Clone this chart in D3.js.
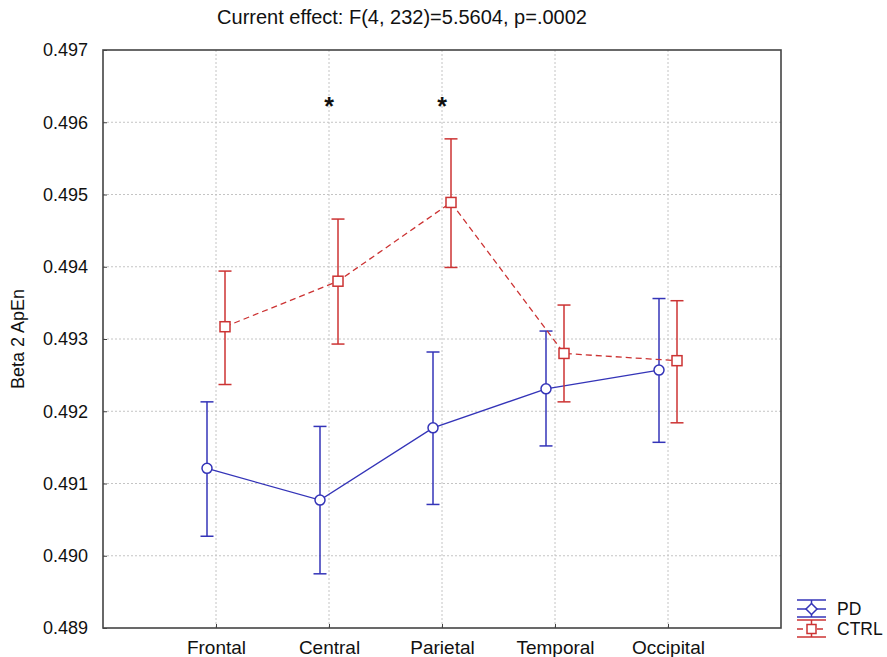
<!DOCTYPE html>
<html>
<head>
<meta charset="utf-8">
<script src="https://cdn.jsdelivr.net/npm/d3@7"></script>
<style>
  body { margin: 0; background: #fff; }
  svg { font-family: "Liberation Sans", Arial, sans-serif; }
  .grid line { stroke: #c4c4c4; stroke-dasharray: 2,2; }
  .axis path, .axis line { stroke: #444; }
  .axis text { fill: #111; }
  .y.axis text { font-size: 18px; }
  .x.axis text { font-size: 19px; }
</style>
</head>
<body>
<svg id="chart"></svg>
<script>
const categories = ["Frontal", "Central", "Parietal", "Temporal", "Occipital"];
const pdMean = [0.49121, 0.49077, 0.49177, 0.49231, 0.49257];
const pdLow = [0.49027, 0.48975, 0.49071, 0.49152, 0.49157];
const pdHigh = [0.49213, 0.49179, 0.49282, 0.49311, 0.49356];
const ctrlMean = [0.49317, 0.49380, 0.49489, 0.49280, 0.49270];
const ctrlLow = [0.49237, 0.49293, 0.49399, 0.49213, 0.49184];
const ctrlHigh = [0.49394, 0.49466, 0.49577, 0.49347, 0.49353];
const yTicks = [0.489, 0.490, 0.491, 0.492, 0.493, 0.494, 0.495, 0.496, 0.497];
const significant = ["Central", "Parietal"];
const titleText = "Current effect: F(4, 232)=5.5604, p=.0002";

const chartSize = { width: 887, height: 657 };
const margin = { left: 103, right: 106, top: 50, bottom: 29 };
const width = chartSize.width - margin.left - margin.right;
const height = chartSize.height - margin.top - margin.bottom;
const blue = "#3434b8";
const red = "#cc3333";
const shift = 9;

const svg = d3.select("#chart")
  .attr("width", chartSize.width)
  .attr("height", chartSize.height);

const x = d3.scalePoint().domain(categories).range([0, width]).padding(1);
const y = d3.scaleLinear().domain([0.489, 0.497]).range([height, 0]);

const g = svg.append("g").attr("transform", `translate(${margin.left},${margin.top})`);

// grid
const grid = g.append("g").attr("class", "grid");
grid.selectAll(".gy").data(yTicks.slice(1, -1)).join("line")
  .attr("x1", 0).attr("x2", width)
  .attr("y1", d => y(d)).attr("y2", d => y(d));
grid.selectAll(".gx").data(categories).join("line")
  .attr("x1", d => x(d)).attr("x2", d => x(d))
  .attr("y1", 0).attr("y2", height);

// frame
g.append("rect").attr("width", width).attr("height", height)
  .attr("fill", "none").attr("stroke", "#444").attr("stroke-width", 1.6);

g.append("g").attr("class", "y axis")
  .call(d3.axisLeft(y).tickValues(yTicks).tickFormat(d3.format(".3f")).tickSize(-4).tickPadding(15))
  .call(a => a.select(".domain").remove());

g.append("g").attr("class", "x axis")
  .attr("transform", `translate(0,${height})`)
  .call(d3.axisBottom(x).tickSize(-4).tickPadding(13))
  .call(a => a.select(".domain").remove());

const series = [
  { key: "PD", mean: pdMean, low: pdLow, high: pdHigh, color: blue, dx: -shift, dash: null, shape: "circle" },
  { key: "CTRL", mean: ctrlMean, low: ctrlLow, high: ctrlHigh, color: red, dx: shift, dash: "6,4", shape: "square" }
];

series.forEach(s => {
  const pts = categories.map((c, i) => ({ x: x(c) + s.dx, m: s.mean[i], lo: s.low[i], hi: s.high[i] }));
  const sg = g.append("g");
  sg.append("path")
    .attr("d", d3.line().x(p => p.x).y(p => y(p.m))(pts))
    .attr("fill", "none").attr("stroke", s.color).attr("stroke-width", 1.3)
    .attr("stroke-dasharray", s.dash);
  const eb = sg.selectAll(".eb").data(pts).join("g").attr("stroke", s.color).attr("stroke-width", 1.5);
  eb.append("line").attr("x1", p => p.x).attr("x2", p => p.x).attr("y1", p => y(p.lo)).attr("y2", p => y(p.hi));
  eb.append("line").attr("x1", p => p.x - 6.5).attr("x2", p => p.x + 6.5).attr("y1", p => y(p.lo)).attr("y2", p => y(p.lo));
  eb.append("line").attr("x1", p => p.x - 6.5).attr("x2", p => p.x + 6.5).attr("y1", p => y(p.hi)).attr("y2", p => y(p.hi));
  if (s.shape === "circle") {
    sg.selectAll(".mk").data(pts).join("circle")
      .attr("cx", p => p.x).attr("cy", p => y(p.m)).attr("r", 5)
      .attr("fill", "#fff").attr("stroke", s.color).attr("stroke-width", 1.5);
  } else {
    sg.selectAll(".mk").data(pts).join("rect")
      .attr("x", p => p.x - 5).attr("y", p => y(p.m) - 5).attr("width", 10).attr("height", 10)
      .attr("fill", "#fff").attr("stroke", s.color).attr("stroke-width", 1.5);
  }
});

// significance stars
g.selectAll(".star").data(significant).join("text")
  .attr("x", d => x(d)).attr("y", y(0.4961))
  .attr("text-anchor", "middle").attr("font-size", 25).attr("font-weight", "bold")
  .attr("fill", "#111").text("*");

// title
svg.append("text").attr("x", 402).attr("y", 24).attr("text-anchor", "middle")
  .attr("font-size", 20).attr("fill", "#111").text(titleText);

// y label
svg.append("text").attr("transform", `translate(24,${margin.top + height / 2}) rotate(-90)`)
  .attr("text-anchor", "middle").attr("font-size", 18).attr("fill", "#111").text("Beta 2 ApEn");

// legend
const legend = svg.append("g").attr("transform", "translate(797,600)");
series.forEach((s, i) => {
  const lg = legend.append("g").attr("transform", `translate(0,${i * 20})`)
    .attr("stroke", s.color).attr("stroke-width", 1.5);
  lg.append("line").attr("x1", 0).attr("x2", 29).attr("y1", 0).attr("y2", 0);
  lg.append("line").attr("x1", 0).attr("x2", 29).attr("y1", 17).attr("y2", 17);
  lg.append("line").attr("x1", 14.5).attr("x2", 14.5).attr("y1", 0).attr("y2", 17);
  lg.append("line").attr("x1", 0).attr("x2", 29).attr("y1", 9).attr("y2", 9)
    .attr("stroke-dasharray", s.dash);
  if (s.shape === "circle") {
    lg.append("path").attr("d", "M14.5,3.5L20,9L14.5,14.5L9,9Z").attr("fill", "#fff");
  } else {
    lg.append("rect").attr("x", 10).attr("y", 4.5).attr("width", 9).attr("height", 9).attr("fill", "#fff");
  }
  legend.append("text").attr("x", 40).attr("y", i * 20 + 15)
    .attr("font-size", 17.5).attr("fill", "#111").text(s.key);
});
</script>
</body>
</html>
